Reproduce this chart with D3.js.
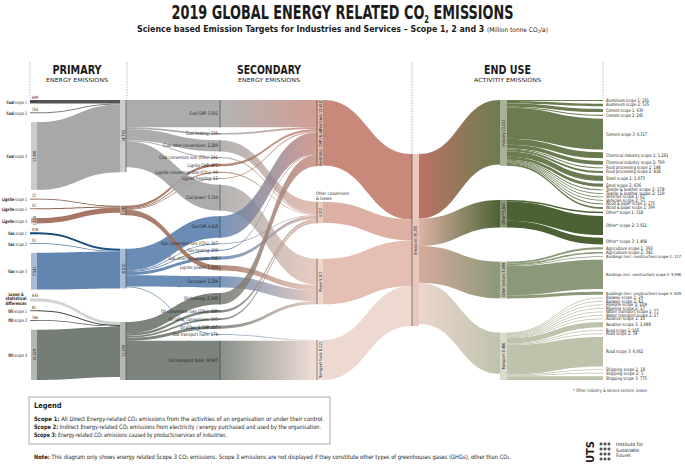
<!DOCTYPE html>
<html>
<head>
<meta charset="utf-8">
<script src="https://cdn.jsdelivr.net/npm/d3@7"></script>
<style>
  body { margin: 0; background: #fff; }
  svg { display: block; font-family: 'Liberation Sans Narrow', 'DejaVu Sans Condensed', 'Open Sans', sans-serif; }
</style>
</head>
<body>
<svg id="chart" width="685" height="467"></svg>
<script>
// ---------- data (Mt CO2 / a) ----------
const fuels = ["Coal", "Lignite", "Gas", "Oil"];

const leftNames = ["Coal scope 1", "Coal scope 2", "Coal scope 3", "Lignite scope 1", "Lignite scope 2", "Lignite scope 3",
  "Gas scope 1", "Gas scope 2", "Gas scope 3", "Losses & statistical differences", "Oil scope 1", "Oil scope 2", "Oil scope 3"];
const leftValues = [699, 203, 13891, 22, 52, 1116, 418, 51, 7541, 633, 81, 166, 10320];
const leftTarget = ["Coal", "Coal", "Coal", "Lignite", "Lignite", "Lignite", "Gas", "Gas", "Gas", "Oil", "Oil", "Oil", "Oil"];

const secNames = ["Coal CHP", "Coal heating", "Coal other conversions", "Coal conversion loss (CO₂)", "Lignite CHP",
  "Lignite conversion loss (CO₂)", "Lignite heating", "Coal power", "Gas CHP", "Gas conversion loss (CO₂)", "Gas heating",
  "Gas other conversions", "Lignite power", "Gas power", "Oil heating", "Oil conversion loss (CO₂)", "Oil other conversions",
  "Oil power & CHP", "Gas transport fuels", "Oil transport fuels"];
const secFuel = ["Coal", "Coal", "Coal", "Coal", "Lignite", "Lignite", "Lignite", "Coal", "Gas", "Gas", "Gas",
  "Gas", "Lignite", "Gas", "Oil", "Oil", "Oil", "Oil", "Gas", "Oil"];
const secValues = [5601, 336, 2289, 241, 491, 90, 12, 5310, 4415, 167, 206, 648, 1096, 2294, 2349, 489, 393, 607, 174, 8047];
const secTarget = [0, 0, 1, 1, 0, 1, 0, 2, 0, 1, 0, 1, 2, 2, 0, 1, 1, 2, 3, 3];

const convNames = ["Heat (inc. CHP) & other fuels", "Other conversions & losses", "Power", "Transport fuels"];

const sectorNames = ["Industry", "Other*", "Other sectors", "Transport"];

const endNames = ["Aluminium scope 1", "Aluminium scope 2", "Cement scope 1", "Cement scope 2", "Cement scope 3",
  "Chemical industry scope 1", "Chemical industry scope 2", "Food processing scope 1", "Food processing scope 2",
  "Steel scope 1", "Steel scope 2", "Textile & leather scope 1", "Textile & leather scope 2", "Vehicles scope 1",
  "Vehicles scope 2", "Wood & paper scope 1", "Wood & paper scope 2",
  "Other* scope 1", "Other* scope 2", "Other* scope 3",
  "Agriculture scope 1", "Agriculture scope 2", "Buildings (incl. construction) scope 1",
  "Buildings (incl. construction) scope 2", "Buildings (incl. construction) scope 3",
  "Railway scope 1", "Railway scope 2", "Pipeline scope 1", "Pipeline scope 2", "Water transport scope 1",
  "Water transport scope 2", "Aviation scope 1", "Aviation scope 3", "Road scope 1", "Road scope 2", "Road scope 3",
  "Shipping scope 1", "Shipping scope 2", "Shipping scope 3"];
const endValues = [191, 535, 639, 245, 6317, 1261, 769, 148, 418, 1073, 636, 178, 119, 67, 57, 175, 399,
  318, 3921, 1408,
  393, 342, 127, 5998, 639,
  29, 42, 104, 17, 77, 27, 15, 1088, 165, 34, 6062, 18, 3, 775];
const endSector = [0, 0, 0, 0, 0, 0, 0, 0, 0, 0, 0, 0, 0, 0, 0, 0, 0,
  1, 1, 1,
  2, 2, 2, 2, 2,
  3, 3, 3, 3, 3, 3, 3, 3, 3, 3, 3, 3, 3, 3];

// ---------- colours ----------
const fuelBand = { Coal: "#a3a3a3", Lignite: "#a0705c", Gas: "#5b80ac", Oil: "#6e776f", Losses: "#cfd3cf" };
const fuelBar = { Coal: "#cbcbcb", Lignite: "#c9a698", Gas: "#a9bcd7", Oil: "#b4b9b4" };
const fuelLine = { Coal: ["#4b4b4b", "#787878"], Lignite: ["#7a4633", "#8d5b48"], Gas: ["#0e4577", "#4673a3"], Oil: ["#353d37", "#4a524c"] };
const convColor = ["#c8887a", "#dcb0a3", "#e3c0b3", "#eed9d0"];
const convBar = ["#e0b8ac", "#e9cbc0", "#efd5cb", "#f4e5df"];
const sectorFrom = ["#bb7363", "#dcb3a5", "#d6ab9c", "#ecd6cd"];
const sectorTo = ["#6b7c51", "#4c6234", "#8c9978", "#bec3ac"];
const sectorBar = ["#a9b197", "#8b977b", "#b8bfa8", "#d9dccd"];

// ---------- graph ----------
const nodes = [], links = [], byId = new Map();
function addNode(id, col, name, extra) {
  const n = Object.assign({ id, col, name, inL: [], outL: [] }, extra);
  nodes.push(n); byId.set(id, n);
}
function addLink(s, t, value, extra) {
  const l = Object.assign({ source: byId.get(s), target: byId.get(t), value }, extra);
  links.push(l); l.source.outL.push(l); l.target.inL.push(l);
}

leftNames.forEach((name, i) => addNode("L" + i, 0, name, { fuel: name.split(" ")[0], bar: name.endsWith("scope 3") }));
fuels.forEach(f => addNode("P" + f, 1, f, { fuel: f }));
secNames.forEach((name, i) => addNode("S" + i, 2, name, { fuel: secFuel[i] }));
convNames.forEach((name, i) => addNode("C" + i, 3, name, { k: i }));
addNode("E", 4, "Emissions", {});
sectorNames.forEach((name, i) => addNode("G" + i, 5, name, { k: i }));
endNames.forEach((name, i) => addNode("U" + i, 6, name, { k: endSector[i] }));

leftNames.forEach((name, i) => addLink("L" + i, "P" + leftTarget[i], leftValues[i]));
secNames.forEach((name, i) => addLink("P" + secFuel[i], "S" + i, secValues[i]));
secNames.forEach((name, i) => addLink("S" + i, "C" + secTarget[i], secValues[i]));
convNames.forEach((name, i) => addLink("C" + i, "E", d3.sum(secValues.filter((v, j) => secTarget[j] === i))));
sectorNames.forEach((name, i) => addLink("E", "G" + i, d3.sum(endValues.filter((v, j) => endSector[j] === i))));
endNames.forEach((name, i) => addLink("G" + endSector[i], "U" + i, endValues[i]));

nodes.forEach(n => { n.value = n.inL.length ? d3.sum(n.inL, l => l.value) : d3.sum(n.outL, l => l.value); });

// ---------- layout ----------
const colX = [[31, 37], [120, 126], [220, 220], [317, 323], [412, 419], [500, 507], [603, 603]];
const yTop = 100, yBot = 380;
const colTotal = d3.max(d3.range(7), c => d3.sum(nodes.filter(n => n.col === c), n => n.value));
const w = d3.scaleLinear().domain([0, colTotal]).range([0, 172]);
links.forEach(l => { l.w = Math.max(w(l.value), 0.8); });
nodes.forEach(n => { n.h = Math.max(d3.sum(n.inL, l => l.w), d3.sum(n.outL, l => l.w)); });

d3.range(7).forEach(c => {
  const col = nodes.filter(n => n.col === c);
  const total = d3.sum(col, n => n.h);
  let y, gap;
  if (col.length === 1) { y = (yTop + yBot) / 2 - total / 2; gap = 0; }
  else { y = yTop; gap = (yBot - yTop - total) / (col.length - 1); }
  col.forEach(n => { n.y0 = y; n.y1 = y + n.h; n.x0 = colX[c][0]; n.x1 = colX[c][1]; y += n.h + gap; });
});
nodes.forEach(n => {
  let y = n.y0;
  n.outL.sort((a, b) => a.target.y0 - b.target.y0).forEach(l => { l.sy = y + l.w / 2; y += l.w; });
  y = n.y0;
  n.inL.sort((a, b) => a.source.y0 - b.source.y0).forEach(l => { l.ty = y + l.w / 2; y += l.w; });
});

// ---------- draw ----------
const svg = d3.select("#chart");
const defs = svg.append("defs");
const fmt = d3.format(",");
const band = d3.area().curve(d3.curveBumpX).x(d => d[0]).y0(d => d[1]).y1(d => d[2]);

function gradient(id, x1, x2, c1, c2) {
  const g = defs.append("linearGradient").attr("id", id).attr("gradientUnits", "userSpaceOnUse")
    .attr("x1", x1).attr("x2", x2).attr("y1", 0).attr("y2", 0);
  g.append("stop").attr("offset", 0).attr("stop-color", c1);
  g.append("stop").attr("offset", 1).attr("stop-color", c2);
  return `url(#${id})`;
}

function linkFill(l, i) {
  const s = l.source, t = l.target;
  if (s.col === 0) {
    if (s.fuel === "Losses") return fuelBand.Losses;
    if (s.bar) return fuelBand[s.fuel];
    return fuelLine[s.fuel][s.name.endsWith("1") ? 0 : 1];
  }
  if (s.col === 1) return fuelBand[s.fuel];
  if (s.col === 2) return gradient("lg" + i, s.x1, t.x0, fuelBand[s.fuel], convColor[t.k]);
  if (s.col === 3) return convColor[s.k];
  if (s.col === 4) return gradient("lg" + i, s.x1, t.x0, sectorFrom[t.k], sectorTo[t.k]);
  return sectorTo[s.k];
}
const opac = [0.95, 0.9, 0.82, 1, 1, 1];

svg.append("g").selectAll("path").data(links).join("path")
  .attr("d", l => band([[l.source.x1, l.sy - l.w / 2, l.sy + l.w / 2], [l.target.x0, l.ty - l.w / 2, l.ty + l.w / 2]]))
  .attr("fill", (l, i) => linkFill(l, i))
  .attr("fill-opacity", l => opac[l.source.col]);

// node bars
const gN = svg.append("g");
nodes.forEach(n => {
  if (n.col === 0) {
    const fill = n.bar ? fuelBar[n.fuel] : linkFill(n.outL[0]);
    gN.append("rect").attr("x", n.bar ? n.x0 : n.x0 - 1).attr("y", n.y0).attr("width", n.x1 - n.x0 + (n.bar ? 0 : 1))
      .attr("height", n.h).attr("fill", fill);
  } else if (n.col === 1 || n.col === 3 || n.col === 4 || n.col === 5) {
    const fill = n.col === 1 ? fuelBar[n.fuel] : n.col === 3 ? convBar[n.k] : n.col === 4 ? "#e8c8bc" : sectorBar[n.k];
    gN.append("rect").attr("x", n.x0).attr("y", n.y0).attr("width", n.x1 - n.x0).attr("height", n.h).attr("fill", fill);
  }
  const lineX = n.col === 1 ? n.x1 : (n.col === 2 || n.col === 3 || n.col === 4) ? n.x0 : null;
  if (lineX !== null) {
    gN.append("line").attr("x1", lineX).attr("x2", lineX).attr("y1", n.y0).attr("y2", n.y1)
      .attr("stroke", "#3c3c3c").attr("stroke-width", 0.6);
  }
});

// labels: the original uses a condensed face, so fit each label to a per-character width
function fit(t, perChar, maxLen) {
  const want = t.text().length * perChar;
  const L = Math.min(want, maxLen || Infinity);
  if (L < want) t.attr("font-size", +t.attr("font-size") * L / want);
  t.attr("textLength", L).attr("lengthAdjust", "spacingAndGlyphs");
  return L;
}
const gL = svg.append("g").attr("fill", "#222");
function vText(x, yc, str, size) {
  return gL.append("text").attr("transform", `translate(${x},${yc}) rotate(-90)`)
    .attr("text-anchor", "middle").attr("dominant-baseline", "central").attr("font-size", size).text(str);
}
nodes.forEach(n => {
  const yc = (n.y0 + n.y1) / 2;
  if (n.col === 0) {
    if (n.fuel === "Losses") {
      ["Losses &", "statistical", "differences"].forEach((s, i) => fit(gL.append("text").attr("x", 16).attr("y", yc - 4 + i * 4.3)
        .attr("text-anchor", "middle").attr("font-size", 4.6).attr("font-weight", 700).text(s), 1.9));
    } else {
      const t = gL.append("text").attr("x", 27).attr("y", yc).attr("text-anchor", "end")
        .attr("dominant-baseline", "central").attr("font-size", 4.6);
      t.append("tspan").attr("font-weight", 700).text(n.fuel);
      t.append("tspan").text(n.name.slice(n.fuel.length));
      fit(t, 1.7, 25);
    }
    if (n.bar) fit(vText((n.x0 + n.x1) / 2, yc, fmt(n.value), 4.4), 2.0);
    else fit(gL.append("text").attr("x", n.x0 + 1).attr("y", n.y0 - 1.3).attr("font-size", 4.4).text(fmt(n.value)), 2.0);
  } else if (n.col === 1) {
    fit(vText((n.x0 + n.x1) / 2, yc, fmt(n.value), 4.4), 2.0);
  } else if (n.col === 2) {
    fit(gL.append("text").attr("x", n.x0 - 2).attr("y", yc).attr("text-anchor", "end").attr("dominant-baseline", "central")
      .attr("font-size", 4.7).text(`${n.name}: ${fmt(n.value)}`), 1.9);
  } else if (n.col === 3 || n.col === 4 || n.col === 5) {
    const t = vText((n.x0 + n.x1) / 2 + 0.3, yc, `${n.name} ${fmt(n.value)}`, 4.3);
    const L = fit(t, 1.8);
    if (L > n.h - 1 && n.name.includes(" & ")) {
      fit(t.text(fmt(n.value)), 1.9);
      const parts = n.name.split(" & ");
      [parts[0], "& " + parts[1]].forEach((s, i) => fit(gL.append("text").attr("x", n.x0 - 1).attr("y", n.y0 - 6.5 + i * 4.6)
        .attr("font-size", 4.6).text(s), 1.95));
    }
  } else {
    const x = n.x0 + 3;
    fit(gL.append("text").attr("x", x).attr("y", yc).attr("dominant-baseline", "central")
      .attr("font-size", 4.7).text(`${n.name}: ${fmt(n.value)}`), 1.95, 681 - x);
  }
});

// ---------- titles & headers ----------
const title = svg.append("text").attr("x", 342.5).attr("y", 19).attr("text-anchor", "middle")
  .attr("font-size", 19).attr("font-weight", 600).attr("fill", "#1b1b1b")
  .attr("textLength", 342).attr("lengthAdjust", "spacingAndGlyphs");
title.append("tspan").text("2019 GLOBAL ENERGY RELATED CO");
title.append("tspan").attr("font-size", 10).attr("dy", 4).text("2");
title.append("tspan").attr("dy", -4).text(" EMISSIONS");

const sub = svg.append("text").attr("x", 342.5).attr("y", 31.5).attr("text-anchor", "middle").attr("fill", "#1b1b1b")
  .attr("textLength", 411).attr("lengthAdjust", "spacingAndGlyphs");
sub.append("tspan").attr("font-size", 8.6).attr("font-weight", 700)
  .text("Science based Emission Targets for Industries and Services – Scope 1, 2 and 3 ");
sub.append("tspan").attr("font-size", 6.4).text("(Million tonne CO");
sub.append("tspan").attr("font-size", 4.4).attr("dy", 1.8).text("2");
sub.append("tspan").attr("font-size", 6.4).attr("dy", -1.8).text("/a)");

const headers = [
  { x: 77, a: "PRIMARY", b: "ENERGY EMISSIONS", wa: 49, wb: 62 },
  { x: 269, a: "SECONDARY", b: "ENERGY EMISSIONS", wa: 64, wb: 62 },
  { x: 507.5, a: "END USE", b: "ACTIVITIY EMISSIONS", wa: 47, wb: 67 }
];
headers.forEach(h => {
  svg.append("text").attr("x", h.x).attr("y", 74).attr("text-anchor", "middle").attr("font-size", 12.5)
    .attr("font-weight", 600).attr("fill", "#1b1b1b").attr("textLength", h.wa).attr("lengthAdjust", "spacingAndGlyphs").text(h.a);
  svg.append("text").attr("x", h.x).attr("y", 82).attr("text-anchor", "middle").attr("font-size", 5.6)
    .attr("fill", "#1b1b1b").attr("textLength", h.wb).attr("lengthAdjust", "spacingAndGlyphs").text(h.b);
});

const emis = byId.get("E");
[30, 127, 412, 603].forEach(x => {
  svg.append("line").attr("x1", x).attr("x2", x).attr("y1", 62).attr("y2", x === 412 ? emis.y0 : 98)
    .attr("stroke", "#8a8a8a").attr("stroke-width", 0.6).attr("stroke-dasharray", "1.5,1.2");
});

svg.append("text").attr("x", 573).attr("y", 391.5).attr("font-size", 4.6).attr("fill", "#333")
  .attr("textLength", 74).attr("lengthAdjust", "spacingAndGlyphs").text("* Other industry & service sectors, losses");

// ---------- legend ----------
const lg = svg.append("g").attr("fill", "#1b1b1b");
lg.append("rect").attr("x", 29).attr("y", 397).attr("width", 301).attr("height", 47)
  .attr("fill", "none").attr("stroke", "#9a9a9a").attr("stroke-width", 0.8);
lg.append("text").attr("x", 34).attr("y", 408).attr("font-size", 7.4).attr("font-weight", 700).text("Legend");
const legendRows = [
  ["Scope 1:", " All Direct Energy-related CO₂ emissions from the activities of an organisation or under their control.", 290],
  ["Scope 2:", " Indirect Energy-related CO₂ emissions from electricity / energy purchased and used by the organisation.", 287],
  ["Scope 3:", " Energy-related CO₂ emissions caused by products/services of industries.", 193]
];
legendRows.forEach((r, i) => {
  const t = lg.append("text").attr("x", 34).attr("y", 420.5 + i * 8).attr("font-size", 6)
    .attr("textLength", r[2]).attr("lengthAdjust", "spacingAndGlyphs");
  t.append("tspan").attr("font-weight", 700).text(r[0]);
  t.append("tspan").text(r[1]);
});
const note = lg.append("text").attr("x", 34).attr("y", 458.5).attr("font-size", 6)
  .attr("textLength", 477).attr("lengthAdjust", "spacingAndGlyphs");
note.append("tspan").attr("font-weight", 700).text("Note:");
note.append("tspan").text(" This diagram only shows energy related Scope 3 CO₂ emissions. Scope 3 emissions are not displayed if they constitute other types of greenhouses gases (GHGs), other than CO₂.");

// ---------- logo ----------
const logo = svg.append("g").attr("fill", "#1b1b1b");
logo.append("text").attr("transform", "translate(594,452) rotate(-90)").attr("text-anchor", "middle")
  .attr("font-size", 11).attr("font-weight", 700).text("UTS");
d3.range(12).forEach(i => {
  const cx = 601 + (i % 3) * 4, cy = 444 + Math.floor(i / 3) * 5;
  logo.append("path").attr("d", `M${cx - 1.6},${cy}h3.2M${cx},${cy - 1.6}v3.2`).attr("stroke", "#1b1b1b").attr("stroke-width", 1);
});
["Institute for", "Sustainable", "Futures"].forEach((s, i) =>
  fit(logo.append("text").attr("x", 616).attr("y", 446 + i * 5.5).attr("font-size", 4.8).text(s), 2.1));
</script>
</body>
</html>
